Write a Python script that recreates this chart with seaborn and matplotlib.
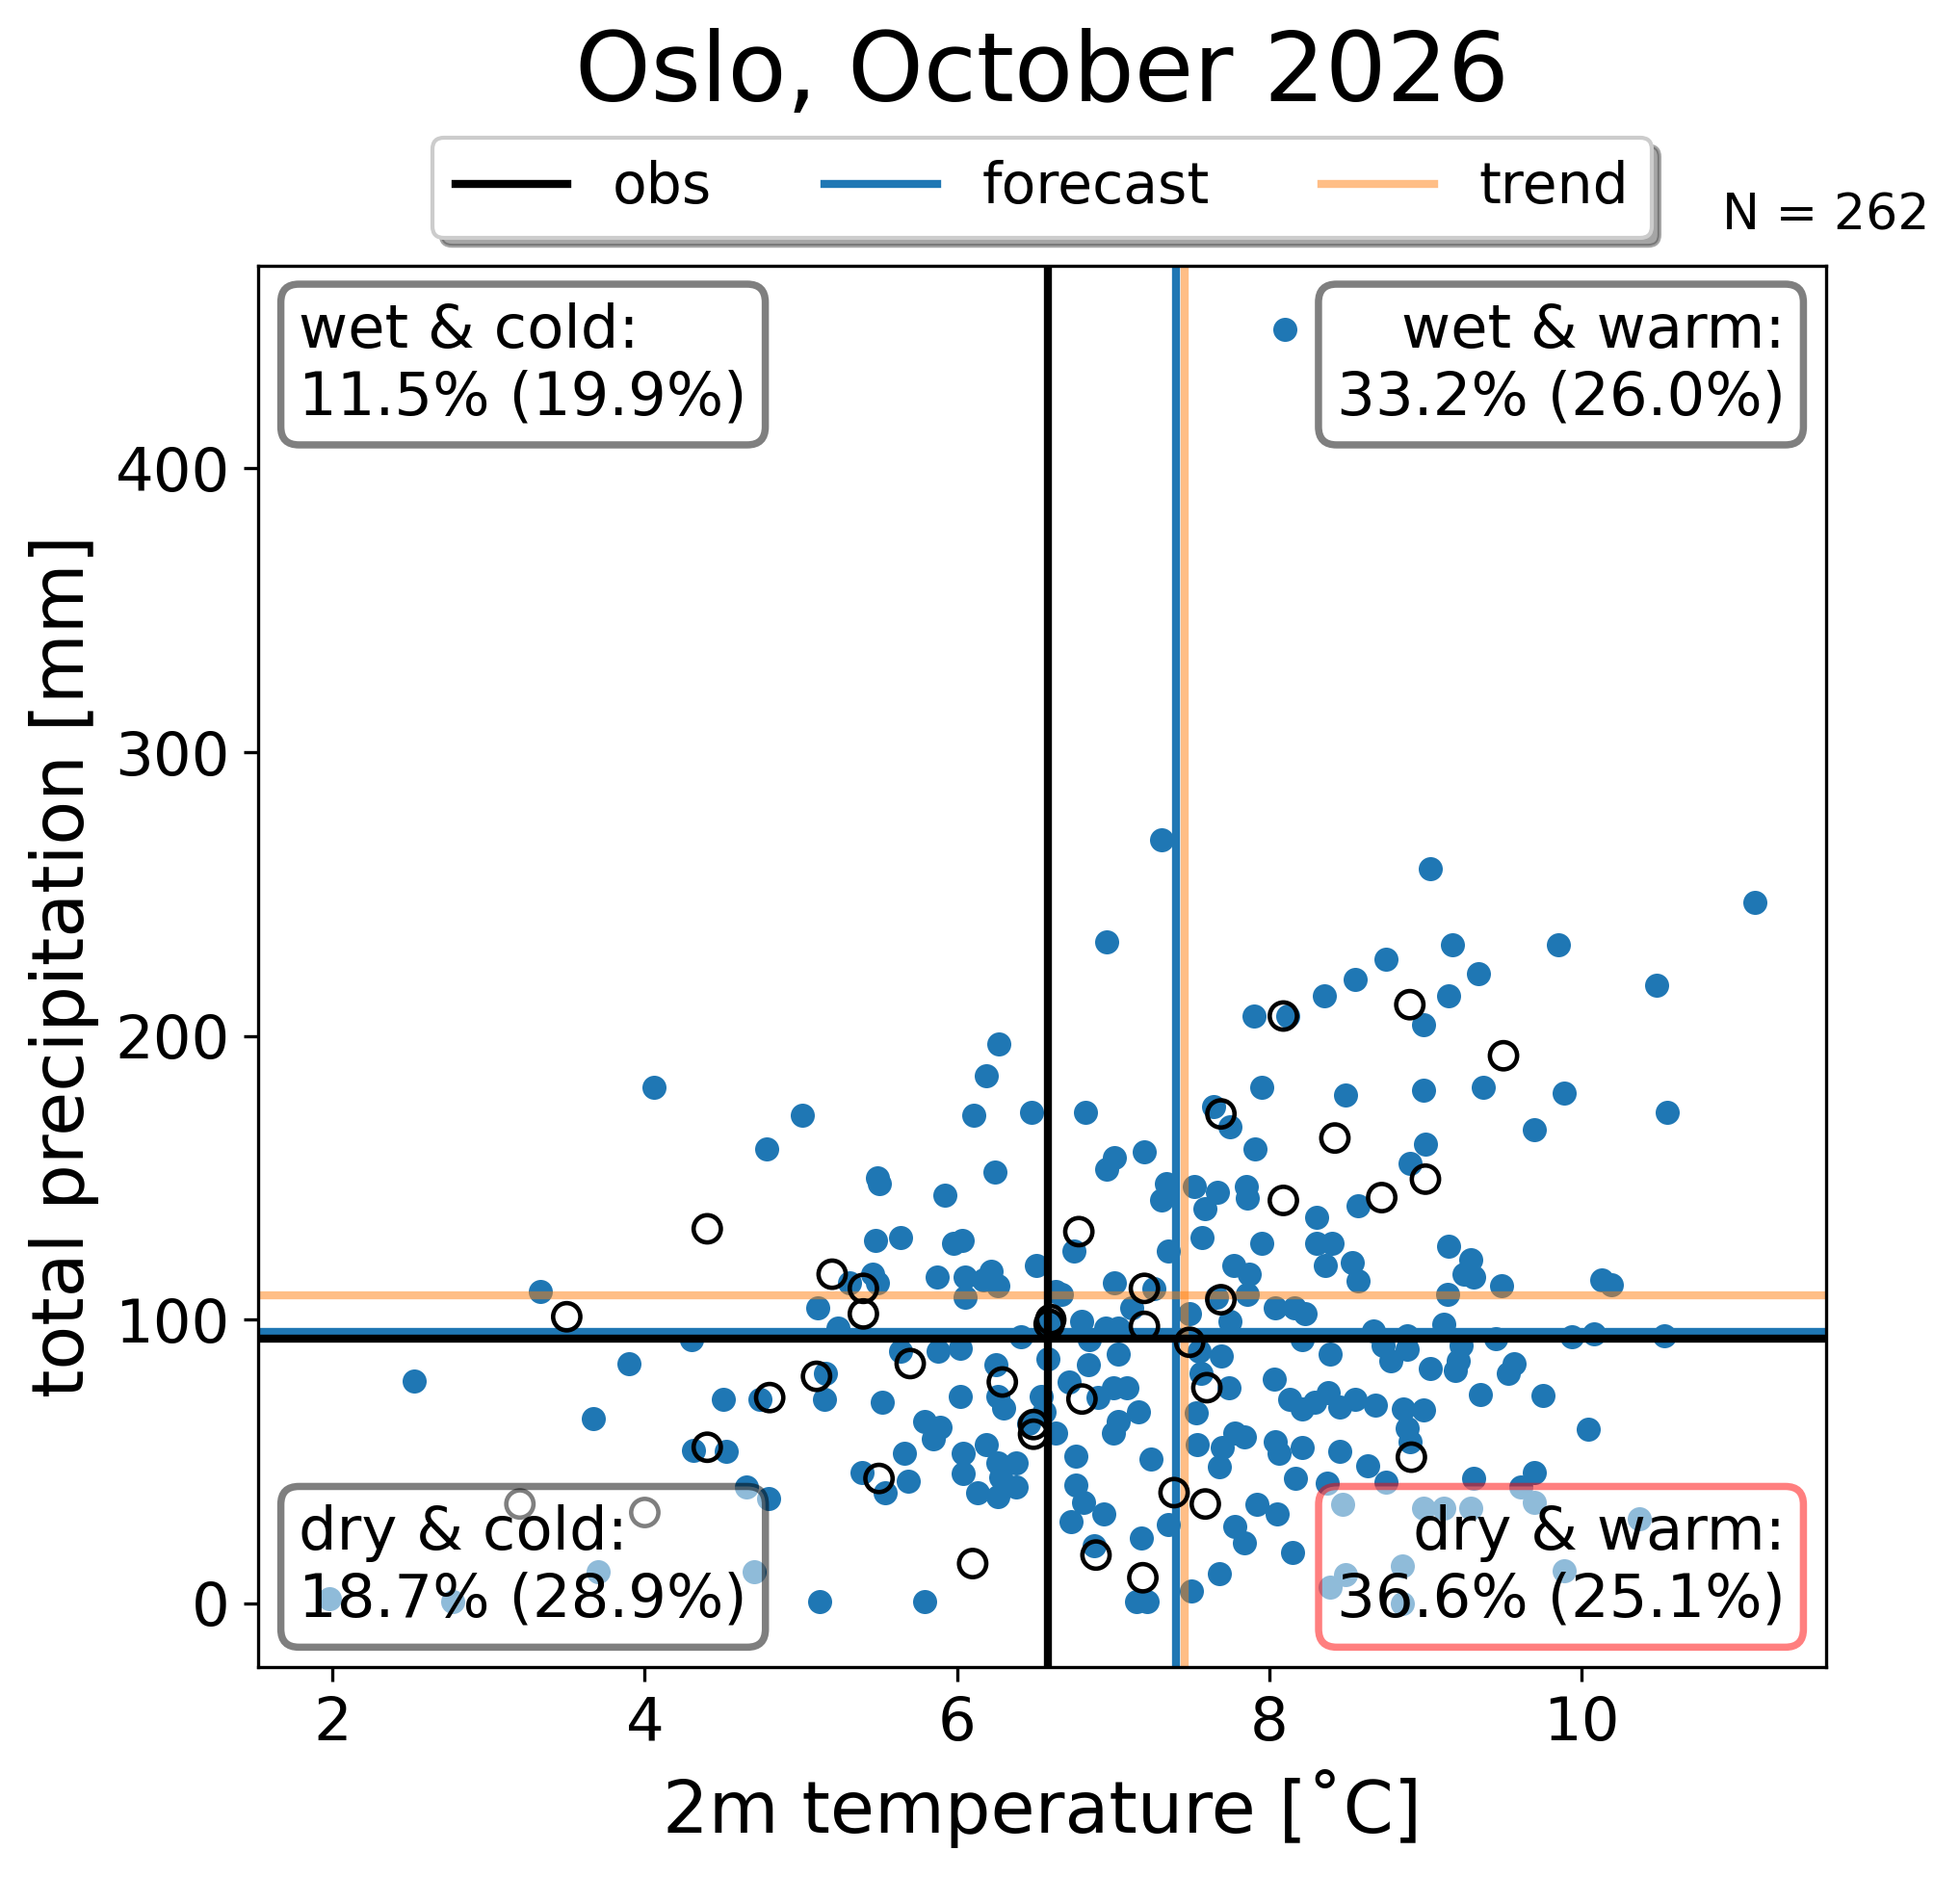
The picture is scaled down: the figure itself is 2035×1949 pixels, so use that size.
import numpy as np
import pandas as pd
import seaborn as sns
import matplotlib.pyplot as plt

# forecast ensemble members: 2m temperature [C] and total precipitation [mm]
fc_temp = [8.10, 7.31, 9.03, 11.11, 6.96, 9.85, 9.17, 8.75, 9.34, 8.55,
           10.48, 8.35, 9.15, 7.90, 8.12, 8.99, 6.27, 6.19, 7.95, 4.06,
           8.99, 9.37, 9.89, 8.49, 5.01, 6.11, 6.48, 6.82, 7.64, 7.75,
           10.55, 9.70, 4.78, 7.20, 7.91, 9.00, 6.96, 7.01, 8.90, 5.49,
           5.50, 6.24, 5.92, 7.34, 7.31, 7.52, 7.67, 7.85, 7.86, 7.59,
           8.57, 8.30, 7.57, 7.95, 8.30, 8.40, 9.15, 5.48, 5.64, 5.98,
           6.03, 6.75, 7.35,
           5.31, 5.46, 5.49, 5.11, 5.24, 5.87, 6.05, 6.22, 6.26, 6.17,
           6.05, 6.51, 6.63, 6.67, 6.59, 6.41, 6.80, 7.01, 7.26, 7.12,
           7.03, 6.95, 6.85, 7.03, 7.49, 7.66, 7.77, 7.87, 7.86, 7.75,
           8.04, 8.16, 8.23, 7.69, 7.55, 8.21, 5.64, 5.88, 6.02, 6.25,
           6.58, 6.84, 5.16, 5.15, 5.52, 6.02, 6.26, 6.30, 6.54, 6.72,
           6.90, 7.00, 7.09, 7.16, 7.03, 7.00, 7.53, 7.56, 7.74, 8.03,
           8.13, 8.21, 7.54, 7.70, 7.78, 7.84, 7.68, 7.24, 8.04, 8.06,
           8.17, 8.21, 5.79, 5.89, 5.85, 5.66, 5.39, 5.54, 5.69, 6.04,
           6.19, 6.26, 6.38, 6.04, 6.13, 6.26, 6.38, 6.28, 6.46, 6.63,
           6.56, 6.76, 6.76, 6.81, 6.94, 6.73, 6.88, 5.12, 5.79, 7.18,
           7.15, 7.22, 7.35, 7.50, 7.68, 7.78, 7.84, 7.92, 8.05, 8.15,
           3.33, 4.30, 2.52, 3.90, 3.67, 4.50, 4.74, 4.31, 4.52, 4.65,
           4.79, 3.70, 4.70, 1.98, 2.77,
           8.36, 8.53, 8.57, 9.29, 9.25, 9.31, 9.49, 9.14, 10.13, 10.19,
           8.67, 8.39, 8.73, 8.78, 8.88, 8.88, 9.12, 9.23, 9.21, 9.19,
           9.03, 9.45, 9.57, 9.53, 9.94, 10.08, 10.53, 9.35, 9.75, 8.29,
           8.38, 8.45, 8.55, 8.68, 8.86, 8.99, 8.88, 8.90, 8.45, 8.63,
           8.75, 8.37, 10.04, 9.31, 9.70, 9.61, 8.47, 8.99, 9.12, 9.29,
           9.70, 10.37, 8.49, 8.39, 8.85, 9.89, 8.85]
fc_precip = [449, 269, 259, 247, 233, 232, 232, 227, 222, 220,
             218, 214, 214, 207, 207, 204, 197, 186, 182, 182,
             181, 182, 180, 179, 172, 172, 173, 173, 175, 168,
             173, 167, 160, 159, 160, 162, 153, 157, 155, 150,
             148, 152, 144, 148, 142, 147, 145, 147, 143, 139,
             140, 136, 129, 127, 127, 127, 126, 128, 129, 127,
             128, 124, 124,
             113, 116, 113, 104, 97, 115, 115, 117, 112, 114,
             108, 119, 110, 109, 99, 94, 99.5, 113, 111, 104,
             97, 97, 93, 88, 102, 108, 119, 116, 109, 99.5,
             104, 104, 102, 87, 89, 93, 89, 89, 90, 84,
             86, 84, 81, 72, 71, 73, 73, 69, 73, 78,
             72.5, 76, 76, 67.5, 64, 60, 67, 81, 76, 79,
             72, 68.6, 56, 55, 60, 58.5, 48, 51, 57, 53,
             44, 55, 64, 62, 58, 53, 46, 39, 43, 53,
             56, 49.5, 49.5, 45.6, 39, 37.7, 41, 44.4, 63.5, 60,
             67.5, 52, 41.6, 35.4, 31.5, 28.7, 20.3, 0.6, 0.6, 23,
             0.6, 0.6, 27.6, 4.3, 10.5, 27, 21.4, 35, 31.5, 18,
             110, 93, 78.5, 84.5, 65, 72, 72, 54, 53.5, 41,
             37, 11, 11, 1.7, 0.6,
             119, 120, 113.5, 121, 116, 115, 112, 109, 114, 112.4,
             96, 88, 91, 85.4, 89.4, 94.4, 98.4, 91, 85.4, 82,
             82.6, 93.3, 84.3, 81, 94, 95, 94.4, 73.6, 73.3, 70.8,
             74.2, 69.1, 72, 69.7, 68.6, 68, 61.8, 56.8, 53.4, 48.4,
             42.7, 42.2, 61.3, 44, 46, 41, 35, 33.7, 33.7, 33.7,
             35.4, 29.8, 10, 5.7, 13, 11.3, 0]

# observed Octobers (earlier years)
obs_temp = [4.40, 5.20, 5.40, 5.40, 3.50, 5.10, 4.80, 4.40, 5.70, 6.29,
            6.60, 6.59, 6.78, 7.20, 7.20, 7.49, 7.69, 6.80, 6.49, 6.49,
            6.89, 6.10, 7.19, 7.39, 7.59, 7.60, 5.50, 3.20, 4.00, 8.09,
            8.90, 9.50, 8.42, 9.00, 8.72, 8.09, 8.91, 7.69]
obs_precip = [132, 116, 111, 102, 101, 80, 72.5, 55, 84.5, 78,
              100, 98.4, 131, 111, 97.6, 92, 107, 72, 63, 59.6,
              17, 14, 9, 39, 35, 76, 44, 35, 32, 207,
              211, 193, 164, 149.5, 143, 142, 51.5, 172.5]

# reference lines: (temperature, precipitation)
obs_line = (6.58, 93.3)
fc_line = (7.40, 95.5)
trend_line = (7.46, 108.7)

quadrant_labels = ["wet & cold:\n11.5% (19.9%)", "wet & warm:\n33.2% (26.0%)",
                   "dry & cold:\n18.7% (28.9%)", "dry & warm:\n36.6% (25.1%)"]
n_members = 262

df_fc = pd.DataFrame({"t2m": fc_temp, "tp": fc_precip})
df_obs = pd.DataFrame({"t2m": obs_temp, "tp": obs_precip})

fig, ax = plt.subplots(figsize=(2035 / 300, 1949 / 300), dpi=300)
fig.subplots_adjust(left=0.1317, right=0.9317, top=0.8584, bottom=0.1119)

sns.scatterplot(data=df_fc, x="t2m", y="tp", ax=ax, color="tab:blue", s=36,
                linewidth=0, zorder=1)

ax.axvline(obs_line[0], color="black", lw=2, label="obs", zorder=2.3)
ax.axhline(obs_line[1], color="black", lw=2, zorder=2.3)
ax.axvline(fc_line[0], color="tab:blue", lw=2, label="forecast", zorder=2.1)
ax.axhline(fc_line[1], color="tab:blue", lw=2, zorder=2.1)
ax.axvline(trend_line[0], color="tab:orange", alpha=0.5, lw=2, label="trend", zorder=2.2)
ax.axhline(trend_line[1], color="tab:orange", alpha=0.5, lw=2, zorder=2.2)

sns.scatterplot(data=df_obs, x="t2m", y="tp", ax=ax, s=46, facecolors="none",
                edgecolor="black", linewidth=1.1, zorder=3)

# quadrant boxes
box_kw = dict(boxstyle="round", facecolor="white", alpha=0.5, linewidth=1.8)
ax.text(0.026, 0.974, quadrant_labels[0], transform=ax.transAxes, fontsize=15,
        ha="left", va="top", zorder=5, bbox=dict(edgecolor="black", **box_kw))
ax.text(0.974, 0.974, quadrant_labels[1], transform=ax.transAxes, fontsize=15,
        ha="right", va="top", multialignment="right", zorder=5,
        bbox=dict(edgecolor="black", **box_kw))
ax.text(0.026, 0.027, quadrant_labels[2], transform=ax.transAxes, fontsize=15,
        ha="left", va="bottom", zorder=5, bbox=dict(edgecolor="black", **box_kw))
ax.text(0.974, 0.027, quadrant_labels[3], transform=ax.transAxes, fontsize=15,
        ha="right", va="bottom", multialignment="right", zorder=5,
        bbox=dict(edgecolor="red", **box_kw))

ax.text(1.0, 1.018, f"N = {n_members}", transform=ax.transAxes, fontsize=12.5,
        ha="center", va="bottom")

ax.legend(loc="lower center", bbox_to_anchor=(0.5, 1.0), ncol=3, shadow=True,
          fontsize=14)

ax.set_title("Oslo, October 2026", fontsize=24, pad=41)
ax.set_xlabel("2m temperature [˚C]", fontsize=18)
ax.set_ylabel("total precipitation [mm]", fontsize=18)
ax.tick_params(labelsize=15)

fig.savefig("out.png", dpi=300)
